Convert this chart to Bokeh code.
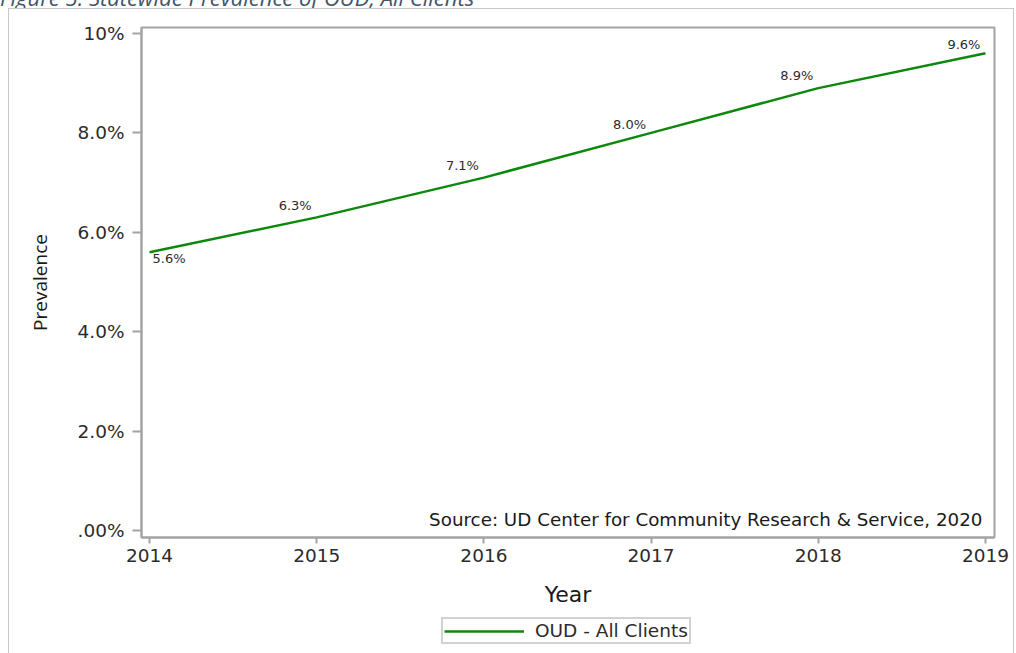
from bokeh.plotting import figure
from bokeh.layouts import column
from bokeh.models import ColumnDataSource, Range1d, FixedTicker, Legend, LegendItem, Label, Div
from bokeh.core.properties import value
from bokeh.embed import file_html
from bokeh.resources import INLINE

# ---- data ----
years = [2014, 2015, 2016, 2017, 2018, 2019]
prevalence = [5.6, 6.3, 7.1, 8.0, 8.9, 9.6]
value_labels = ["5.6%", "6.3%", "7.1%", "8.0%", "8.9%", "9.6%"]
y_ticks = [0, 2, 4, 6, 8, 10]
y_tick_labels = [".00%", "2.0%", "4.0%", "6.0%", "8.0%", "10%"]
series_name = "OUD - All Clients"
source_note = "Source: UD Center for Community Research & Service, 2020"
caption = "Figure 5: Statewide Prevalence of OUD, All Clients"

# ---- styling for labels (not data) ----
lab_align = ["left", "right", "right", "right", "right", "right"]
lab_base = ["top", "bottom", "bottom", "bottom", "bottom", "bottom"]
lab_dx = [3, -5, -5, -5, -5, -5]
lab_dy = [-1, -4, -5, -1, -5, -1]

GREEN = "#0c880c"
GRAY = "#a3a3a3"
TXT = "#2b2b2b"
FONT = "DejaVu Sans"

p = figure(width=1004, height=604, output_backend="svg", toolbar_location=None,
           x_range=Range1d(2013.952, 2019.054), y_range=Range1d(-0.141, 10.12),
           min_border_left=132, min_border_right=19, min_border_top=18, min_border_bottom=76)

src = ColumnDataSource(dict(x=years, y=prevalence, t=value_labels, a=lab_align,
                            b=lab_base, dx=lab_dx, dy=lab_dy))
line = p.line("x", "y", source=src, line_color=GREEN, line_width=2.5)
p.text("x", "y", text="t", source=src, text_align="a", text_baseline="b",
       x_offset="dx", y_offset="dy", text_font=value(FONT),
       text_font_size="13px", text_color=TXT)

p.add_layout(Label(x=2019, y=0.0, x_offset=-3, text=source_note, text_align="right",
                   text_baseline="bottom", text_font=FONT,
                   text_font_size="18.3px", text_color="#1a1a1a"))

p.grid.visible = False
p.outline_line_color = GRAY
p.outline_line_width = 2

# axes
p.xaxis.ticker = FixedTicker(ticks=years)
p.yaxis.ticker = FixedTicker(ticks=y_ticks)
p.yaxis.major_label_overrides = {t: l for t, l in zip(y_ticks, y_tick_labels)}
for ax in (p.xaxis, p.yaxis):
    ax.axis_line_color = GRAY
    ax.axis_line_width = 2
    ax.major_tick_line_color = GRAY
    ax.major_tick_line_width = 2
    ax.minor_tick_line_color = None
    ax.major_tick_in = 0
    ax.major_label_text_font = FONT
    ax.major_label_text_font_size = "18.5px"
    ax.major_label_text_color = TXT
    ax.axis_label_text_font_style = "normal"
    ax.axis_label_text_color = "#1a1a1a"
p.xaxis.major_tick_out = 6
p.yaxis.major_tick_out = 9
p.xaxis.major_label_standoff = 5
p.yaxis.major_label_standoff = 8
p.xaxis.axis_label = "Year"
p.xaxis.axis_label_text_font = FONT
p.xaxis.axis_label_text_font_size = "22px"
p.xaxis.axis_label_standoff = 17
p.yaxis.axis_label = "Prevalence"
p.yaxis.axis_label_text_font = "Open Sans"
p.yaxis.axis_label_text_font_size = "19px"
p.yaxis.axis_label_standoff = 22

# ---- legend strip ----
pl = figure(width=1004, height=40, output_backend="svg", toolbar_location=None,
            x_range=Range1d(0, 1), y_range=Range1d(0, 1),
            min_border_left=0, min_border_right=0, min_border_top=0, min_border_bottom=0)
pl.axis.visible = False
pl.grid.visible = False
pl.outline_line_color = None
leg_line = pl.line(x=[-5, -4], y=[-5, -5], line_color=GREEN, line_width=2.5)
legend = Legend(items=[LegendItem(label=series_name, renderers=[leg_line])],
                orientation="horizontal", location=(300, 9),
                glyph_width=80, glyph_height=16, label_text_font=FONT,
                label_text_font_size="18.5px", label_text_color=TXT,
                border_line_color=GRAY, border_line_width=2,
                padding=1, margin=0, spacing=0, label_standoff=11,
                background_fill_color="white")
pl.add_layout(legend, "center")

layout = column(p, pl, spacing=0)
layout.styles = {"margin-left": "8px",
                 "border-left": "1px solid #c8c8c8", "border-top": "1px solid #c8c8c8",
                 "border-right": "1px solid #c8c8c8"}

title = Div(text=caption, width=700, height=8, margin=0,
            styles={"overflow": "hidden"},
            stylesheets=[":host div, :host { overflow: hidden; }"])
title.text = ('<div style="position:relative; top:-14px; left:0px; white-space:nowrap; '
              'font-family:\'Open Sans\'; font-style:italic; font-size:22px; '
              'line-height:22px; color:#44546a;">' + caption + '</div>')

open("out.html", "w").write(file_html([title, layout], INLINE))
